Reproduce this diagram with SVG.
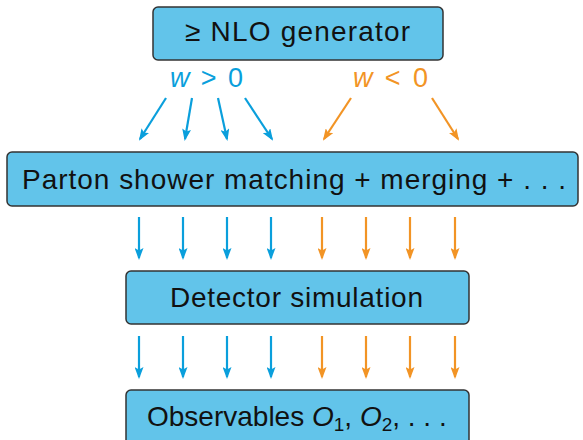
<svg xmlns="http://www.w3.org/2000/svg" width="583" height="440" viewBox="0 0 583 440">
<style>
.box{fill:#62C4EA;stroke:#333;stroke-width:1.5}
.t{font-family:"Liberation Sans",Arial,sans-serif;font-size:28px;fill:#111}
.b{stroke:#0A9FDC;stroke-width:2.2;fill:none}
.o{stroke:#F29425;stroke-width:2.2;fill:none}
.lab{font-family:"Liberation Sans",Arial,sans-serif;font-size:27px}
</style>
<defs>
<marker id="ab" viewBox="0 0 12 9" refX="10" refY="4.5" markerWidth="12" markerHeight="9" orient="auto" markerUnits="userSpaceOnUse"><path d="M0,0 L12,4.5 L0,9 L2.5,4.5 z" fill="#0A9FDC"/></marker>
<marker id="ao" viewBox="0 0 12 9" refX="10" refY="4.5" markerWidth="12" markerHeight="9" orient="auto" markerUnits="userSpaceOnUse"><path d="M0,0 L12,4.5 L0,9 L2.5,4.5 z" fill="#F29425"/></marker>
</defs>
<rect width="583" height="440" fill="#fff"/>
<g id="connectors">
<g class="b" marker-end="url(#ab)">
<line x1="166" y1="98" x2="140" y2="139"/>
<line x1="192" y1="98" x2="185" y2="139"/>
<line x1="218" y1="98" x2="227" y2="139"/>
<line x1="245" y1="98" x2="272" y2="139"/>
<line x1="139" y1="217" x2="139" y2="258"/>
<line x1="183" y1="217" x2="183" y2="258"/>
<line x1="227" y1="217" x2="227" y2="258"/>
<line x1="271" y1="217" x2="271" y2="258"/>
<line x1="139" y1="336" x2="139" y2="377"/>
<line x1="183" y1="336" x2="183" y2="377"/>
<line x1="227" y1="336" x2="227" y2="377"/>
<line x1="271" y1="336" x2="271" y2="377"/>
</g>
<g class="o" marker-end="url(#ao)">
<line x1="351" y1="98" x2="324" y2="139"/>
<line x1="432" y1="98" x2="458" y2="139"/>
<line x1="322" y1="217" x2="322" y2="258"/>
<line x1="366" y1="217" x2="366" y2="258"/>
<line x1="410" y1="217" x2="410" y2="258"/>
<line x1="455" y1="217" x2="455" y2="258"/>
<line x1="322" y1="336" x2="322" y2="377"/>
<line x1="366" y1="336" x2="366" y2="377"/>
<line x1="410" y1="336" x2="410" y2="377"/>
<line x1="455" y1="336" x2="455" y2="377"/>
</g>
<text class="lab" x="170" y="87" fill="#0A9FDC" textLength="73" lengthAdjust="spacing"><tspan font-style="italic">w</tspan> &gt; 0</text>
<text class="lab" x="353" y="87" fill="#F29425" textLength="75" lengthAdjust="spacing"><tspan font-style="italic">w</tspan> &lt; 0</text>
</g>
<g id="generator">
<rect class="box" x="153" y="7" width="290" height="53" rx="5"/>
<text class="t" x="185" y="41" textLength="225" lengthAdjust="spacing">≥ NLO generator</text>
</g>
<g id="shower">
<rect class="box" x="7" y="152" width="571" height="54" rx="5"/>
<text class="t" x="22" y="189" textLength="544" lengthAdjust="spacing">Parton shower matching + merging + . . .</text>
</g>
<g id="detector">
<rect class="box" x="126" y="271" width="343" height="53" rx="5"/>
<text class="t" x="170" y="307" textLength="253" lengthAdjust="spacing">Detector simulation</text>
</g>
<g id="observables">
<rect class="box" x="126" y="390" width="343" height="60" rx="5"/>
<text class="t" x="147" y="426">Observables <tspan font-style="italic">O</tspan><tspan font-size="19" dy="5">1</tspan><tspan dy="-5">, </tspan><tspan font-style="italic">O</tspan><tspan font-size="19" dy="5">2</tspan><tspan dy="-5">, . . .</tspan></text>
</g>
</svg>
